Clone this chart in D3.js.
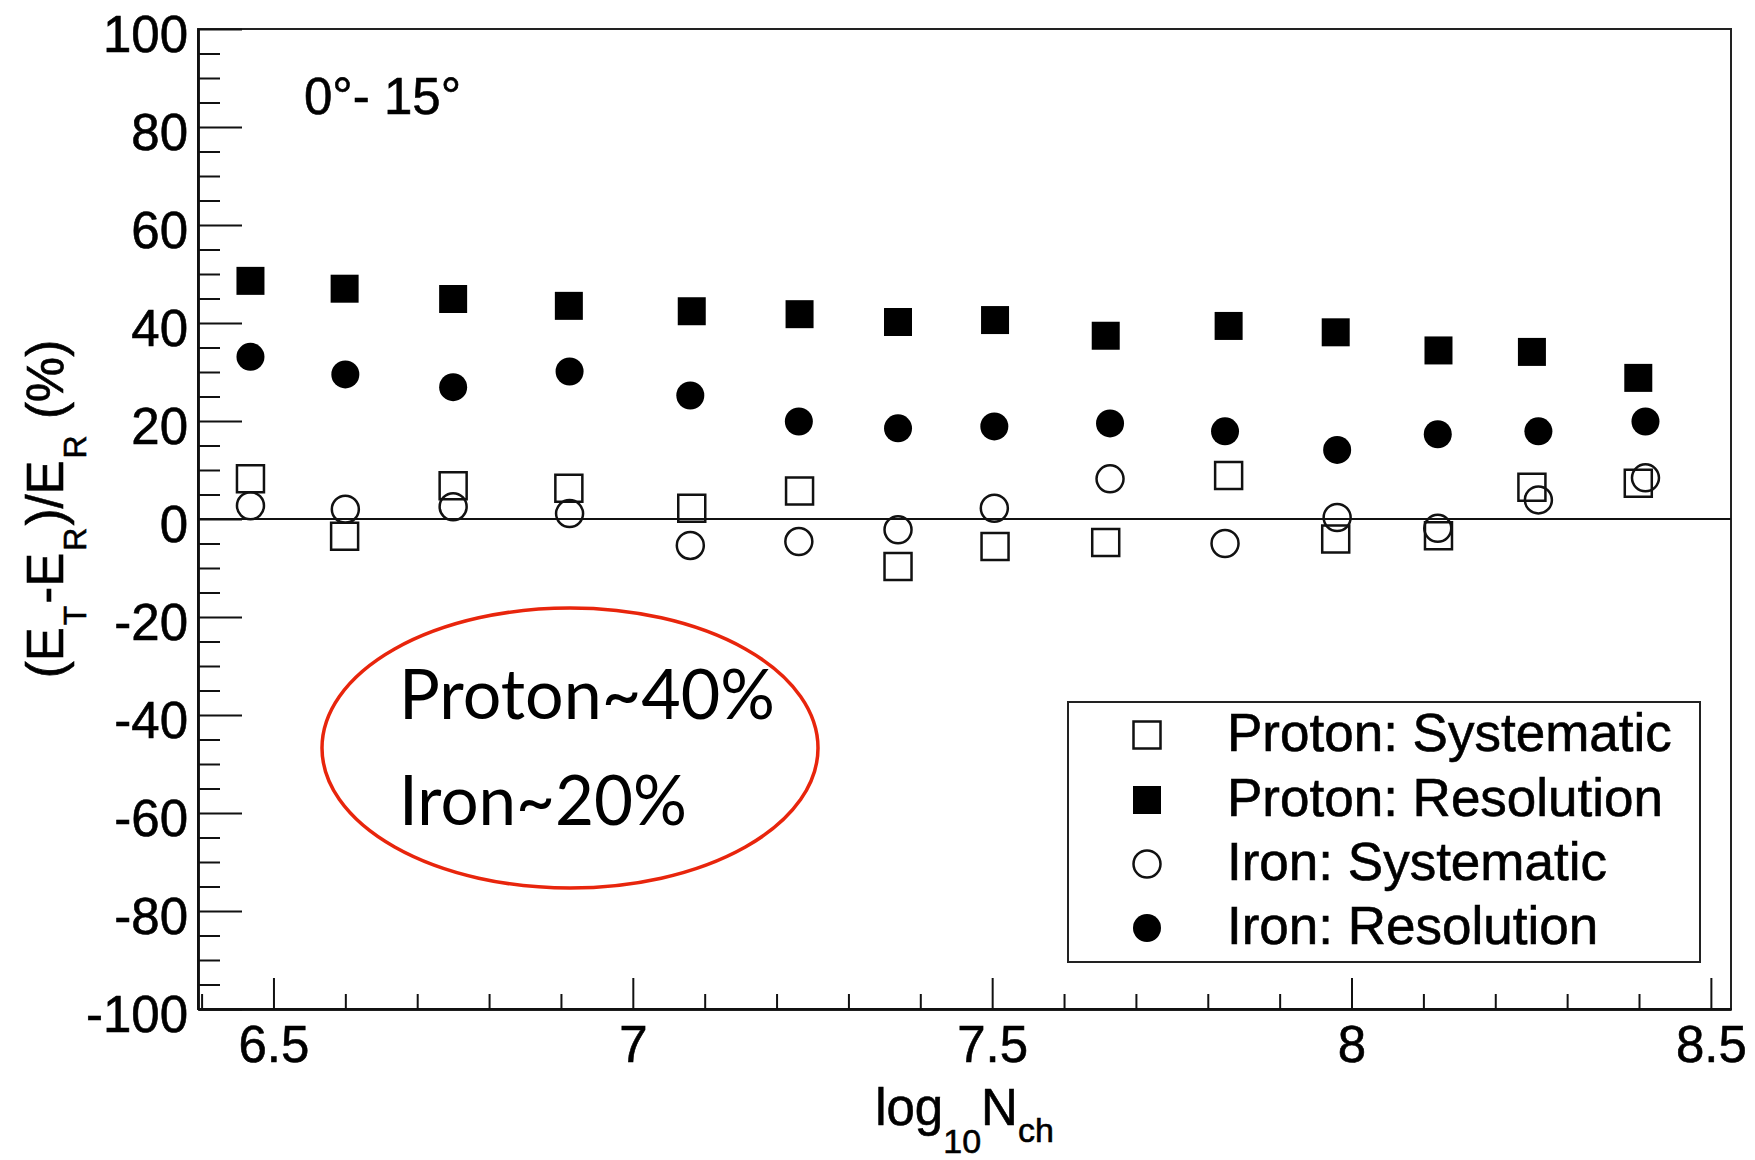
<!DOCTYPE html>
<html>
<head>
<meta charset="utf-8">
<script src="https://cdn.jsdelivr.net/npm/d3@7"></script>
<style>
  html, body { margin: 0; padding: 0; background: #fff; }
  svg { display: block; }
</style>
</head>
<body>
<svg id="chart" width="1755" height="1160"></svg>
<script>
// Energy reconstruction: systematic shift and resolution vs shower size, 0°-15° zenith
const xProton = [6.468, 6.599, 6.750, 6.911, 7.082, 7.232, 7.369, 7.504, 7.658, 7.829, 7.978, 8.121, 8.251, 8.399];
const xIron   = [6.468, 6.600, 6.750, 6.912, 7.080, 7.231, 7.369, 7.503, 7.664, 7.824, 7.980, 8.120, 8.260, 8.409];

const protonSystematic = [8.2, -3.5, 6.8, 6.3, 2.2, 5.7, -9.7, -5.6, -4.8, 8.9, -4.1, -3.4, 6.5, 7.3];
const protonResolution = [48.6, 47.0, 44.9, 43.5, 42.4, 41.8, 40.2, 40.6, 37.4, 39.4, 38.1, 34.4, 34.1, 28.8];
const ironSystematic   = [2.7, 2.0, 2.5, 1.1, -5.4, -4.6, -2.2, 2.2, 8.2, -5.0, 0.3, -1.9, 3.9, 8.4];
const ironResolution   = [33.1, 29.5, 26.9, 30.1, 25.2, 19.9, 18.5, 18.9, 19.5, 17.9, 14.1, 17.3, 17.9, 19.9];

const xMajorTicks = [6.5, 7, 7.5, 8, 8.5];
const xTickLabels = ["6.5", "7", "7.5", "8", "8.5"];
const yMajorTicks = [-100, -80, -60, -40, -20, 0, 20, 40, 60, 80, 100];
const yTickLabels = ["-100", "-80", "-60", "-40", "-20", "0", "20", "40", "60", "80", "100"];

const legendLabels = ["Proton: Systematic", "Proton: Resolution", "Iron: Systematic", "Iron: Resolution"];
const zenithLabel = "0°- 15°";
const noteLines = ["Proton~40%", "Iron~20%"];

// ---- layout ----
const plot = { left: 198, right: 1731, top: 29, bottom: 1009 };
const font = "'Liberation Sans', Arial, Helvetica, sans-serif";

const svg = d3.select("#chart");

const x = d3.scaleLinear().domain([6.395, 8.528]).range([plot.left, plot.right]);
const y = d3.scaleLinear().domain([-100, 100]).range([plot.bottom, plot.top]);

// frame (top / right)
svg.append("rect")
  .attr("x", plot.left).attr("y", plot.top)
  .attr("width", plot.right - plot.left).attr("height", plot.bottom - plot.top)
  .attr("fill", "none").attr("stroke", "#222").attr("stroke-width", 2);

// zero reference line
svg.append("line")
  .attr("x1", plot.left).attr("x2", plot.right)
  .attr("y1", y(0)).attr("y2", y(0))
  .attr("stroke", "#111").attr("stroke-width", 2);

// heavier rendering for the Helvetica-like labels
function inkText(sel) {
  sel.attr("fill", "#000").attr("stroke", "#000").attr("stroke-width", 0.6);
}

// ---- y axis ----
const yMinor = d3.range(-100, 100.1, 5).filter(v => v % 20 !== 0);
const yMinorAxis = svg.append("g").attr("transform", `translate(${plot.left},0)`)
  .call(d3.axisLeft(y).tickValues(yMinor).tickSizeInner(-22).tickSizeOuter(0).tickFormat(""));
const yAxis = svg.append("g").attr("transform", `translate(${plot.left},0)`)
  .call(d3.axisLeft(y).tickValues(yMajorTicks).tickSizeInner(-44).tickSizeOuter(0).tickPadding(10)
    .tickFormat((d, i) => yTickLabels[i]));
[yMinorAxis, yAxis].forEach(g => {
  g.select(".domain").attr("stroke", "#111").attr("stroke-width", 2.5);
  g.selectAll(".tick line").attr("stroke", "#111").attr("stroke-width", 2);
});
yAxis.selectAll(".tick text")
  .attr("font-family", font).attr("font-size", 51)
  .attr("dy", "0.45em").call(inkText);

// ---- x axis ----
const xMinor = d3.range(64, 86, 1).map(v => v / 10).filter(v => Math.abs(v * 2 - Math.round(v * 2)) > 1e-6);
const xMinorAxis = svg.append("g").attr("transform", `translate(0,${plot.bottom})`)
  .call(d3.axisBottom(x).tickValues(xMinor).tickSizeInner(-15).tickSizeOuter(0).tickFormat(""));
const xAxis = svg.append("g").attr("transform", `translate(0,${plot.bottom})`)
  .call(d3.axisBottom(x).tickValues(xMajorTicks).tickSizeInner(-31).tickSizeOuter(0).tickPadding(17)
    .tickFormat((d, i) => xTickLabels[i]));
[xMinorAxis, xAxis].forEach(g => {
  g.select(".domain").attr("stroke", "#111").attr("stroke-width", 2.5);
  g.selectAll(".tick line").attr("stroke", "#111").attr("stroke-width", 2);
});
xAxis.selectAll(".tick text")
  .attr("font-family", font).attr("font-size", 51).call(inkText);

// ---- axis titles ----
const xTitle = svg.append("text")
  .attr("x", (plot.left + plot.right) / 2).attr("y", 1125)
  .attr("text-anchor", "middle")
  .attr("font-family", font).attr("font-size", 51).call(inkText);
xTitle.append("tspan").text("log");
xTitle.append("tspan").attr("font-size", 34).attr("dy", 28).text("10");
xTitle.append("tspan").attr("dy", -28).text("N");
xTitle.append("tspan").attr("font-size", 34).attr("dy", 17).text("ch");

const yTitle = svg.append("text")
  .attr("transform", "translate(63,509) rotate(-90)")
  .attr("text-anchor", "middle")
  .attr("font-family", font).attr("font-size", 51).call(inkText);
yTitle.append("tspan").text("(E");
yTitle.append("tspan").attr("font-size", 32).attr("dy", 23).attr("dx", 2).text("T");
yTitle.append("tspan").attr("dy", -23).attr("dx", 2).text("-E");
yTitle.append("tspan").attr("font-size", 32).attr("dy", 23).attr("dx", 2).text("R");
yTitle.append("tspan").attr("dy", -23).attr("dx", 2).text(")/E");
yTitle.append("tspan").attr("font-size", 32).attr("dy", 23).attr("dx", 2).text("R");
yTitle.append("tspan").attr("dy", -23).attr("dx", 2).text(" (%)");

// ---- zenith range label ----
svg.append("text")
  .attr("x", 304).attr("y", 114)
  .attr("font-family", font).attr("font-size", 51).call(inkText)
  .text(zenithLabel);

// ---- markers ----
const squareFilled = d3.symbol().type(d3.symbolSquare).size(28 * 28);
const squareOpen   = d3.symbol().type(d3.symbolSquare).size(27 * 27);
const circleFilled = d3.symbol().type(d3.symbolCircle).size(Math.PI * 14 * 14);
const circleOpen   = d3.symbol().type(d3.symbolCircle).size(Math.PI * 13.5 * 13.5);

const seriesList = [
  { xs: xProton, ys: protonSystematic, path: squareOpen,   filled: false },
  { xs: xProton, ys: protonResolution, path: squareFilled, filled: true  },
  { xs: xIron,   ys: ironSystematic,   path: circleOpen,   filled: false },
  { xs: xIron,   ys: ironResolution,   path: circleFilled, filled: true  }
];

function styleMarker(sel, s) {
  sel.attr("d", s.path())
    .attr("fill", s.filled ? "#000" : "none")
    .attr("stroke", s.filled ? "none" : "#111")
    .attr("stroke-width", s.filled ? 0 : 2.5);
}

seriesList.forEach(s => {
  svg.append("g").selectAll("path")
    .data(s.ys.map((v, i) => ({ x: s.xs[i], y: v })))
    .join("path")
    .attr("transform", d => `translate(${x(d.x)},${y(d.y)})`)
    .call(sel => styleMarker(sel, s));
});

// ---- legend ----
const legend = { x: 1068, y: 702, w: 632, h: 260 };
svg.append("rect")
  .attr("x", legend.x).attr("y", legend.y)
  .attr("width", legend.w).attr("height", legend.h)
  .attr("fill", "#fff").attr("stroke", "#222").attr("stroke-width", 2);

const legendRowY = [735, 800, 864, 928];
seriesList.forEach((s, i) => {
  svg.append("path")
    .attr("transform", `translate(1147,${legendRowY[i]})`)
    .call(sel => styleMarker(sel, s));
  svg.append("text")
    .attr("x", 1227).attr("y", legendRowY[i] + 16)
    .attr("font-family", font).attr("font-size", 53).call(inkText)
    .text(legendLabels[i]);
});

// ---- annotation ellipse ----
svg.append("ellipse")
  .attr("cx", 570).attr("cy", 748).attr("rx", 248).attr("ry", 140)
  .attr("fill", "none").attr("stroke", "#e8250c").attr("stroke-width", 3.5);

const noteFont = "Lato, 'Open Sans', sans-serif";
svg.append("text")
  .attr("x", 399).attr("y", 719)
  .attr("font-family", noteFont).attr("font-size", 70).attr("fill", "#000")
  .attr("textLength", 376).attr("lengthAdjust", "spacingAndGlyphs")
  .text(noteLines[0]);
svg.append("text")
  .attr("x", 399).attr("y", 825)
  .attr("font-family", noteFont).attr("font-size", 70).attr("fill", "#000")
  .attr("textLength", 288).attr("lengthAdjust", "spacingAndGlyphs")
  .text(noteLines[1]);
</script>
</body>
</html>
